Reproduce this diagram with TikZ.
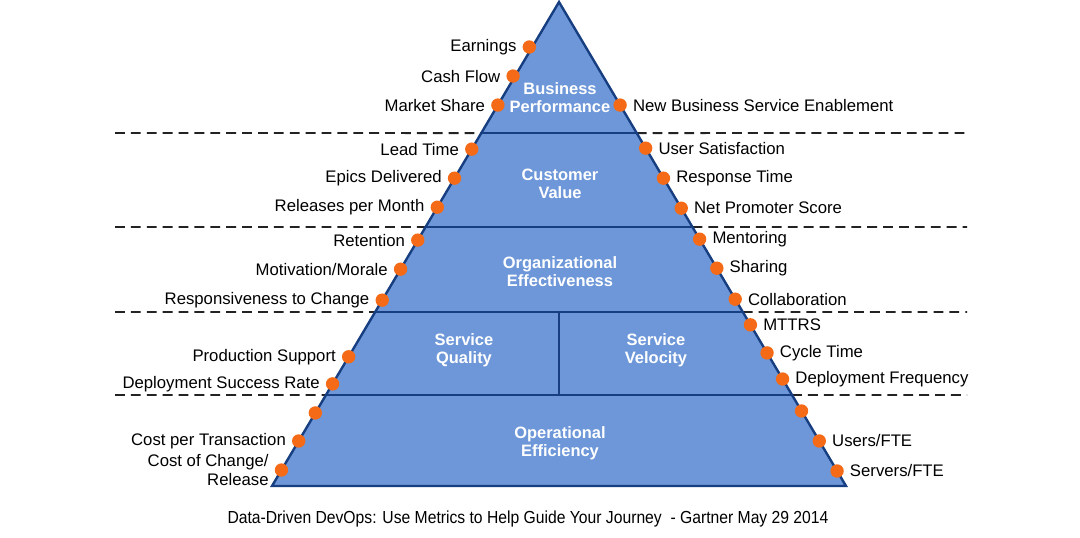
\documentclass[tikz,border=0pt]{standalone}
\usepackage{fontspec}
\setmainfont{Liberation Sans}
\newfontfamily\capfont[FakeStretch=0.9]{Liberation Sans}
\usetikzlibrary{positioning,calc}
\definecolor{pyrfill}{RGB}{109,151,216}
\definecolor{pyredge}{RGB}{22,62,128}
\definecolor{dotorange}{RGB}{244,106,22}
\definecolor{dashgray}{RGB}{35,35,35}

\begin{document}
\begin{tikzpicture}[x=0.025cm,y=-0.025cm]
        \tikzstyle{edge} = [draw=pyredge, line width=1.7pt]
        \tikzstyle{sep} = [draw=dashgray, line width=1.4pt, dash pattern=on 7pt off 4.3pt]
        \tikzstyle{dot} = [circle, fill=dotorange, minimum size=9.5pt, inner sep=0pt]
        \tikzstyle{lbl} = [font=\fontsize{11.9}{13}\selectfont, inner sep=1pt]
        \tikzstyle{tier} = [font=\fontsize{11.7}{12.8}\selectfont\bfseries, text=white, align=center]

        \useasboundingbox (0,0) rectangle (1080,538);

        \coordinate (apex) at (559,2);
        \coordinate (bl) at (272,486);
        \coordinate (br) at (846,486);

        \coordinate (l1) at ($(apex)!0.2707!(bl)$);
        \coordinate (r1) at ($(apex)!0.2707!(br)$);
        \coordinate (l2) at ($(apex)!0.4649!(bl)$);
        \coordinate (r2) at ($(apex)!0.4649!(br)$);
        \coordinate (l3) at ($(apex)!0.6405!(bl)$);
        \coordinate (r3) at ($(apex)!0.6405!(br)$);
        \coordinate (l4) at ($(apex)!0.8120!(bl)$);
        \coordinate (r4) at ($(apex)!0.8120!(br)$);
        \coordinate (vtop) at ($(l3)!0.5!(r3)$);
        \coordinate (vbot) at (vtop |- l4);

        \coordinate (dl1) at (115,133);
        \coordinate (dr1) at (967,133);
        \coordinate (dl2) at (115,227);
        \coordinate (dr2) at (967,227);
        \coordinate (dl3) at (115,312);
        \coordinate (dr3) at (967,312);
        \coordinate (dl4) at (115,395);
        \coordinate (dr4) at (967,395);

        \path[sep] (dl1) -- (l1);
        \path[sep] (r1) -- (dr1);
        \path[sep] (dl2) -- (l2);
        \path[sep] (r2) -- (dr2);
        \path[sep] (dl3) -- (l3);
        \path[sep] (r3) -- (dr3);
        \path[sep] (dl4) -- (l4);
        \path[sep] (r4) -- (dr4);

        \path[edge, fill=pyrfill, line join=miter] (apex) -- (bl) -- (br) -- cycle;
        \path[edge] (l1) -- (r1);
        \path[edge] (l2) -- (r2);
        \path[edge] (l3) -- (r3);
        \path[edge] (l4) -- (r4);
        \path[edge] (vtop) -- (vbot);

        \node[tier] (busperf) at (560,98) {Business\\Performance};
        \node[tier] (custval) at (560,184) {Customer\\Value};
        \node[tier] (orgeff) at (560,272) {Organizational\\Effectiveness};
        \node[tier] (servqual) at (464,350) {Service\\Quality};
        \node[tier] (servvel) at (656,350) {Service\\Velocity};
        \node[tier] (opeff) at (560,443) {Operational\\Efficiency};

        \node[dot] (earn) at ($(apex)!0.093!(bl)+(-3,0)$) {};
        \node[dot] (cash) at ($(apex)!0.153!(bl)+(-2,0)$) {};
        \node[dot] (mshare) at ($(apex)!0.213!(bl)$) {};
        \node[dot] (lead) at ($(apex)!0.304!(bl)$) {};
        \node[dot] (epics) at ($(apex)!0.364!(bl)$) {};
        \node[dot] (releases) at ($(apex)!0.424!(bl)$) {};
        \node[dot] (retention) at ($(apex)!0.492!(bl)$) {};
        \node[dot] (morale) at ($(apex)!0.552!(bl)$) {};
        \node[dot] (respons) at ($(apex)!0.616!(bl)$) {};
        \node[dot] (prodsup) at ($(apex)!0.733!(bl)$) {};
        \node[dot] (depsucc) at ($(apex)!0.789!(bl)$) {};
        \node[dot] (blankl) at ($(apex)!0.849!(bl)$) {};
        \node[dot] (costtx) at ($(apex)!0.907!(bl)$) {};
        \node[dot] (costchg) at ($(apex)!0.967!(bl)$) {};

        \node[dot] (newbus) at ($(apex)!0.213!(br)$) {};
        \node[dot] (usersat) at ($(apex)!0.302!(br)$) {};
        \node[dot] (resptime) at ($(apex)!0.364!(br)$) {};
        \node[dot] (nps) at ($(apex)!0.426!(br)$) {};
        \node[dot] (mentor) at ($(apex)!0.490!(br)$) {};
        \node[dot] (sharing) at ($(apex)!0.550!(br)$) {};
        \node[dot] (collab) at ($(apex)!0.614!(br)$) {};
        \node[dot] (mttrs) at ($(apex)!0.667!(br)$) {};
        \node[dot] (cycle) at ($(apex)!0.725!(br)$) {};
        \node[dot] (depfreq) at ($(apex)!0.779!(br)$) {};
        \node[dot] (blankr) at ($(apex)!0.845!(br)$) {};
        \node[dot] (usersfte) at ($(apex)!0.907!(br)$) {};
        \node[dot] (serversfte) at ($(apex)!0.969!(br)$) {};

        \node[lbl, left=3pt of earn] (earnlbl) {Earnings};
        \node[lbl, left=3pt of cash] (cashlbl) {Cash Flow};
        \node[lbl, left=3pt of mshare] (msharelbl) {Market Share};
        \node[lbl, left=3pt of lead] (leadlbl) {Lead Time};
        \node[lbl, left=3pt of epics] (epicslbl) {Epics Delivered};
        \node[lbl, left=3pt of releases] (releaseslbl) {Releases per Month};
        \node[lbl, left=3pt of retention] (retentionlbl) {Retention};
        \node[lbl, left=3pt of morale] (moralelbl) {Motivation/Morale};
        \node[lbl, left=3pt of respons] (responslbl) {Responsiveness to Change};
        \node[lbl, left=3pt of prodsup] (prodsuplbl) {Production Support};
        \node[lbl, left=3pt of depsucc] (depsucclbl) {Deployment Success Rate};
        \node[lbl, left=3pt of costtx] (costtxlbl) {Cost per Transaction};
        \node[lbl, left=3pt of costchg, align=right] (costchglbl) {Cost of Change/\\Release};

        \node[lbl, right=3pt of newbus] (newbuslbl) {New Business Service Enablement};
        \node[lbl, right=3pt of usersat] (usersatlbl) {User Satisfaction};
        \node[lbl, right=3pt of resptime] (resptimelbl) {Response Time};
        \node[lbl, right=3pt of nps] (npslbl) {Net Promoter Score};
        \node[lbl, right=3pt of mentor] (mentorlbl) {Mentoring};
        \node[lbl, right=3pt of sharing] (sharinglbl) {Sharing};
        \node[lbl, right=3pt of collab] (collablbl) {Collaboration};
        \node[lbl, right=3pt of mttrs] (mttrslbl) {MTTRS};
        \node[lbl, right=3pt of cycle] (cyclelbl) {Cycle Time};
        \node[lbl, right=3pt of depfreq] (depfreqlbl) {Deployment Frequency};
        \node[lbl, right=3pt of usersfte] (usersftelbl) {Users/FTE};
        \node[lbl, right=3pt of serversfte] (serversftelbl) {Servers/FTE};

        \node[font=\capfont\fontsize{12.4}{14}\selectfont] (caption) at (528,519) {Data-Driven DevOps: Use Metrics to Help Guide Your Journey~~- Gartner May 29 2014};
    \end{tikzpicture}
\end{document}
